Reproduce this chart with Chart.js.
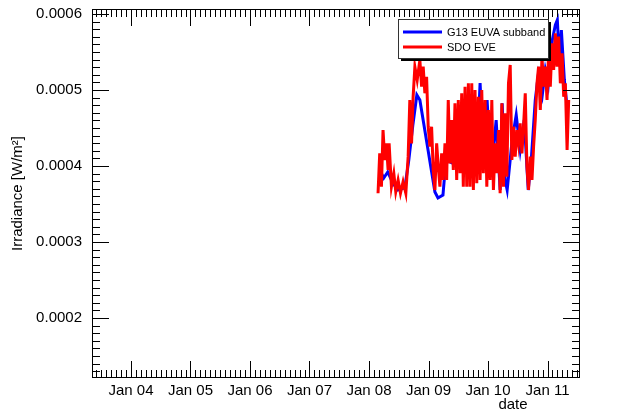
<!DOCTYPE html>
<html><head><meta charset="utf-8">
<script src="https://cdn.jsdelivr.net/npm/chart.js@4.4.1/dist/chart.umd.min.js"></script>
<style>html,body{margin:0;padding:0;background:#fff;overflow:hidden}</style>
</head><body>
<canvas id="c" width="631" height="417"></canvas>
<script>
// ---- data (x = day of January, y = irradiance in W/m^2) ----
const seriesLabels = ['G13 EUVA subband', 'SDO EVE'];
const seriesColors = ['#0000ff', '#ff0000'];

const g13Days = [8.180,8.248,8.315,8.400,8.484,8.602,8.669,8.737,8.804,8.855,9.108,9.159,9.243,9.293,9.799,9.867,9.917,9.985,10.052,10.137,10.204,10.238,10.288,10.322,10.406,10.474,10.541,10.609,10.676,10.727,10.794,10.845,10.912,10.963,11.013,11.081,11.132,11.165,11.199,11.233,11.283,11.317];
const g13Values = [3.947e-4,3.842e-4,3.921e-4,3.776e-4,3.684e-4,3.711e-4,4.079e-4,4.539e-4,4.934e-4,4.868e-4,3.658e-4,3.579e-4,3.618e-4,4.079e-4,3.882e-4,5.092e-4,4.211e-4,4.868e-4,3.882e-4,4.605e-4,3.684e-4,4.825e-4,3.816e-4,3.684e-4,4.342e-4,4.671e-4,4.211e-4,4.605e-4,3.684e-4,4.079e-4,4.868e-4,5.197e-4,4.934e-4,5.263e-4,5.066e-4,5.658e-4,5.855e-4,5.921e-4,5.395e-4,5.789e-4,5.132e-4,4.868e-4];

const eveDays = [8.152,8.180,8.209,8.236,8.265,8.293,8.321,8.338,8.377,8.417,8.450,8.489,8.529,8.573,8.619,8.658,8.686,8.715,8.742,8.771,8.810,8.855,8.884,8.911,8.939,8.968,8.995,9.024,9.052,9.079,9.108,9.137,9.164,9.192,9.221,9.248,9.277,9.305,9.332,9.361,9.390,9.417,9.445,9.474,9.501,9.530,9.558,9.585,9.614,9.643,9.670,9.698,9.727,9.754,9.782,9.811,9.838,9.867,9.895,9.922,9.951,9.980,10.007,10.035,10.064,10.091,10.120,10.148,10.176,10.204,10.233,10.260,10.288,10.317,10.344,10.373,10.401,10.428,10.457,10.486,10.513,10.541,10.570,10.597,10.626,10.654,10.681,10.710,10.739,10.766,10.794,10.823,10.850,10.879,10.907,10.934,10.963,10.992,11.019,11.047,11.076,11.103,11.132,11.160,11.187,11.216,11.245,11.272,11.300,11.329,11.356];
const eveValues = [3.641e-4,4.167e-4,3.728e-4,4.474e-4,4.079e-4,4.298e-4,3.947e-4,4.298e-4,3.728e-4,3.904e-4,3.662e-4,3.816e-4,3.641e-4,3.794e-4,3.641e-4,4.123e-4,4.868e-4,4.298e-4,4.912e-4,5.307e-4,5.132e-4,5.395e-4,5.044e-4,5.307e-4,4.957e-4,5.175e-4,4.517e-4,4.254e-4,4.517e-4,3.947e-4,3.684e-4,4.298e-4,3.991e-4,3.728e-4,4.167e-4,3.816e-4,4.298e-4,3.816e-4,4.868e-4,4.035e-4,4.605e-4,3.947e-4,4.825e-4,3.816e-4,4.868e-4,3.904e-4,4.957e-4,3.728e-4,5.044e-4,3.728e-4,5.088e-4,3.728e-4,5.088e-4,3.684e-4,5.000e-4,3.772e-4,4.912e-4,3.816e-4,5.000e-4,3.904e-4,4.868e-4,3.728e-4,4.737e-4,3.816e-4,4.868e-4,3.684e-4,4.298e-4,3.904e-4,4.474e-4,3.641e-4,4.825e-4,3.728e-4,4.693e-4,3.859e-4,5.088e-4,5.329e-4,4.079e-4,4.517e-4,4.123e-4,4.474e-4,4.298e-4,4.562e-4,4.167e-4,4.517e-4,4.957e-4,3.991e-4,3.684e-4,4.123e-4,3.816e-4,4.254e-4,4.605e-4,5.088e-4,5.307e-4,4.737e-4,5.438e-4,5.044e-4,5.307e-4,4.868e-4,5.526e-4,5.044e-4,5.614e-4,5.263e-4,5.746e-4,5.307e-4,5.702e-4,5.088e-4,5.482e-4,4.912e-4,5.088e-4,4.211e-4,4.868e-4];

const xTickDays = [4,5,6,7,8,9,10,11];
const xTickLabels = ['Jan 04','Jan 05','Jan 06','Jan 07','Jan 08','Jan 09','Jan 10','Jan 11'];
const yTickValues = [0.0002,0.0003,0.0004,0.0005,0.0006];
const yTickLabels = ['0.0002','0.0003','0.0004','0.0005','0.0006'];
const xRange = [3.345, 11.546];
const yRange = [0.000121, 0.0006066];
const xTitle = 'date';
const yTitle = 'Irradiance [W/m\u00B2]';

// ---- chart ----
const FONT = "'Liberation Sans', Arial, Helvetica, sans-serif";
Chart.defaults.font.family = FONT;
Chart.defaults.color = '#000';

const framePlugin = {
  id: 'frame',
  afterDraw(chart) {
    const {ctx, chartArea: a, scales: {x, y}} = chart;
    ctx.save();
    ctx.strokeStyle = '#000';
    ctx.lineWidth = 1;
    ctx.beginPath();
    // x ticks every 2 hours, major each day
    const ks = Math.ceil(x.min * 12 - 1e-6), ke = Math.floor(x.max * 12 + 1e-6);
    for (let k = ks; k <= ke; k++) {
      const px = Math.round(x.getPixelForValue(k / 12)) + 0.5;
      const L = (k % 12 === 0) ? 17 : 8;
      ctx.moveTo(px, a.bottom); ctx.lineTo(px, a.bottom - L);
      ctx.moveTo(px, a.top); ctx.lineTo(px, a.top + L);
    }
    // y ticks every 1e-5, major every 1e-4
    const js = Math.ceil(y.min / 1e-5 - 1e-6), je = Math.floor(y.max / 1e-5 + 1e-6);
    for (let j = js; j <= je; j++) {
      const py = Math.round(y.getPixelForValue(j * 1e-5)) + 0.5;
      const L = (j % 10 === 0) ? 17 : 8;
      ctx.moveTo(a.left, py); ctx.lineTo(a.left + L, py);
      ctx.moveTo(a.right, py); ctx.lineTo(a.right - L, py);
    }
    ctx.stroke();
    ctx.strokeRect(Math.round(a.left) + 0.5, Math.round(a.top) + 0.5, Math.round(a.width) - 1, Math.round(a.height) - 1);

    // x axis title
    ctx.fillStyle = '#000';
    ctx.font = '15px ' + FONT;
    ctx.textAlign = 'center';
    ctx.textBaseline = 'middle';
    ctx.fillText(xTitle, a.left + 0.8627 * a.width, 405);

    // legend box
    const bx = a.right - 182, by = a.top + 10, bw = 150, bh = 39;
    ctx.fillStyle = '#000';
    ctx.fillRect(bx + 3, by + 3, bw, bh);
    ctx.fillStyle = '#fff';
    ctx.fillRect(bx, by, bw, bh);
    ctx.strokeStyle = '#333';
    ctx.lineWidth = 1;
    ctx.strokeRect(bx + 0.5, by + 0.5, bw, bh);
    const order = [1, 0]; // G13 first, then EVE (dataset indices)
    ctx.font = '11px ' + FONT;
    ctx.textAlign = 'left';
    order.forEach((di, i) => {
      const ds = chart.data.datasets[di];
      const ly = by + 13 + i * 15;
      ctx.strokeStyle = ds.borderColor;
      ctx.lineWidth = 3;
      ctx.beginPath();
      ctx.moveTo(bx + 5, ly); ctx.lineTo(bx + 44, ly);
      ctx.stroke();
      ctx.fillStyle = '#000';
      ctx.fillText(ds.label, bx + 49, ly + 0.5);
    });
    ctx.restore();
  }
};

new Chart(document.getElementById('c'), {
  type: 'line',
  data: {
    datasets: [
      { label: seriesLabels[1], data: eveDays.map((d, i) => ({x: d, y: eveValues[i]})),
        borderColor: seriesColors[1], borderWidth: 3, pointRadius: 0, tension: 0, order: 0 },
      { label: seriesLabels[0], data: g13Days.map((d, i) => ({x: d, y: g13Values[i]})),
        borderColor: seriesColors[0], borderWidth: 3, pointRadius: 0, tension: 0, order: 1 }
    ]
  },
  options: {
    responsive: false,
    animation: false,
    devicePixelRatio: 1,
    layout: { padding: { top: 9, right: 51, bottom: 0, left: 0 } },
    plugins: { legend: { display: false }, tooltip: { enabled: false } },
    scales: {
      x: {
        type: 'linear', min: xRange[0], max: xRange[1],
        grid: { display: false, drawTicks: false }, border: { display: false },
        afterFit: s => { s.height = 39; s.paddingLeft = 0; s.paddingRight = 0; },
        afterBuildTicks: s => { s.ticks = xTickDays.map(v => ({value: v})); },
        ticks: { autoSkip: false, maxRotation: 0, padding: 4, font: { size: 15 },
          callback: (v) => { const i = xTickDays.indexOf(v); return i >= 0 ? xTickLabels[i] : ''; } }
      },
      y: {
        type: 'linear', min: yRange[0], max: yRange[1],
        grid: { display: false, drawTicks: false }, border: { display: false },
        afterFit: s => { s.width = 92; s.paddingTop = 0; s.paddingBottom = 0; },
        afterBuildTicks: s => { s.ticks = yTickValues.map(v => ({value: v})); },
        title: { display: true, text: yTitle, font: { size: 15 }, padding: { top: 9, bottom: 0 } },
        ticks: { autoSkip: false, padding: 10, font: { size: 15 },
          callback: (v) => { const i = yTickValues.indexOf(v); return i >= 0 ? yTickLabels[i] : ''; } }
      }
    }
  },
  plugins: [framePlugin]
});
</script>
</body></html>
